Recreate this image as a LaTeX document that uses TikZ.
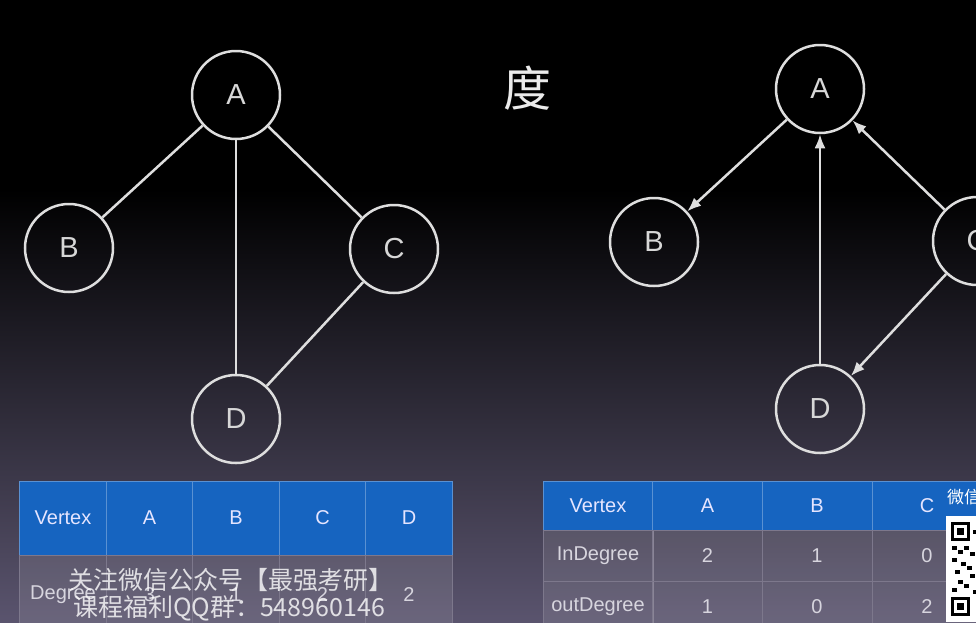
\documentclass[tikz,border=0pt]{standalone}
\usepackage{fontspec}
\setmainfont{Liberation Sans}
\newfontfamily\cjk{Noto Sans CJK SC}
\usetikzlibrary{arrows.meta,positioning}
\definecolor{edgeGray}{RGB}{222,222,222}
\definecolor{labelGray}{RGB}{215,215,215}
\definecolor{headBlue}{RGB}{22,100,192}
\definecolor{headLine}{RGB}{90,145,210}
\definecolor{bodyLine}{RGB}{125,120,140}
\definecolor{bodyText}{RGB}{215,213,222}
\definecolor{slideLow}{RGB}{90,84,110}
\tikzset{
  degVertex/.style={circle, draw=edgeGray, line width=2.5pt, minimum size=88pt, inner sep=0pt, text=labelGray, font=\fontsize{29}{29}\selectfont},
  degEdge/.style={draw=edgeGray, line width=2.5pt},
  degArrow/.style={degEdge, -{Latex[length=14pt,width=11pt]}},
  headCell/.style={draw=headLine, line width=0.8pt, fill=headBlue, inner sep=0pt, text=white!90!blue, font=\fontsize{20}{20}\selectfont},
  bodyCell/.style={draw=bodyLine, line width=0.8pt, fill=white, fill opacity=0.1, draw opacity=1, text opacity=1, inner sep=0pt, text=bodyText, font=\fontsize{20}{20}\selectfont},
  markText/.style={text=white, text opacity=0.8, font=\cjk\fontsize{25}{25}\selectfont, inner sep=0pt}
}

\begin{document}
\begin{tikzpicture}[x=1pt, y=-1pt,
    leftCol/.style={minimum width=86.5pt},
    rightCol/.style={minimum width=110pt}
  ]
  \useasboundingbox (0,0) rectangle (976,622);
  \clip (0,0) rectangle (976,622);
  % slide background
  \fill[black] (0,0) rectangle (976,190);
  \shade[top color=black, bottom color=slideLow] (0,189) rectangle (976,622);

  % title
  \node[text=white!92!black, font=\cjk\fontsize{48}{48}\selectfont, inner sep=0pt] (title) at (527,88) {度};

  % undirected graph
  \node[degVertex] (uA) at (236,95) {A};
  \node[degVertex] (uB) at (69,248) {B};
  \node[degVertex] (uC) at (394,249) {C};
  \node[degVertex] (uD) at (236,419) {D};
  \draw[degEdge] (uA) -- (uB);
  \draw[degEdge] (uA) -- (uC);
  \draw[degEdge] (uA) -- (uD);
  \draw[degEdge] (uC) -- (uD);

  % directed graph
  \node[degVertex] (dA) at (820,89) {A};
  \node[degVertex] (dB) at (654,242) {B};
  \node[degVertex] (dC) at (977,241) {C};
  \node[degVertex] (dD) at (820,409) {D};
  \draw[degArrow] (dA) -- (dB);
  \draw[degArrow] (dD) -- (dA);
  \draw[degArrow] (dC) -- (dA);
  \draw[degArrow] (dC) -- (dD);

  % degree table
  \node[headCell, leftCol, minimum height=74pt] (tVertex) at (63,518) {Vertex};
  \node[headCell, leftCol, minimum height=74pt] (tA) at (149.5,518) {A};
  \node[headCell, leftCol, minimum height=74pt] (tB) at (236,518) {B};
  \node[headCell, leftCol, minimum height=74pt] (tC) at (322.5,518) {C};
  \node[headCell, leftCol, minimum height=74pt] (tD) at (409,518) {D};
  \node[bodyCell, leftCol, minimum height=80pt] (tDeg) at (63,595) {Degree};
  \node[bodyCell, leftCol, minimum height=80pt] (tDegA) at (149.5,595) {3};
  \node[bodyCell, leftCol, minimum height=80pt] (tDegB) at (236,595) {1};
  \node[bodyCell, leftCol, minimum height=80pt] (tDegC) at (322.5,595) {2};
  \node[bodyCell, leftCol, minimum height=80pt] (tDegD) at (409,595) {2};

  % in/out degree table
  \node[headCell, rightCol, minimum height=49pt] (sVertex) at (598,505.5) {Vertex};
  \node[headCell, rightCol, minimum height=49pt] (sA) at (707.5,505.5) {A};
  \node[headCell, rightCol, minimum height=49pt] (sB) at (817,505.5) {B};
  \node[headCell, rightCol, minimum height=49pt] (sC) at (927,505.5) {C};
  \node[bodyCell, rightCol, minimum height=51pt] (sIn) at (598,555.5) {InDegree};
  \node[bodyCell, rightCol, minimum height=51pt] (sInA) at (707.5,555.5) {2};
  \node[bodyCell, rightCol, minimum height=51pt] (sInB) at (817,555.5) {1};
  \node[bodyCell, rightCol, minimum height=51pt] (sInC) at (927,555.5) {0};
  \node[bodyCell, rightCol, minimum height=51pt] (sOut) at (598,606.5) {outDegree};
  \node[bodyCell, rightCol, minimum height=51pt] (sOutA) at (707.5,606.5) {1};
  \node[bodyCell, rightCol, minimum height=51pt] (sOutB) at (817,606.5) {0};
  \node[bodyCell, rightCol, minimum height=51pt] (sOutC) at (927,606.5) {2};

  % watermark and qr code
  \node[markText] (markTop) at (231,580) {关注微信公众号【最强考研】};
  \node[markText] (markBottom) at (229,608) {课程福利QQ群：548960146};
  \node[text=white, font=\cjk\fontsize{17}{17}\selectfont, inner sep=0pt, anchor=west] (qrLabel) at (947,497) {微信};
  \fill[white] (946,516) rectangle (976,622);
  \fill[black] (951,522) rectangle (970,541);
  \fill[white] (954,525) rectangle (967,538);
  \fill[black] (957,528) rectangle (964,535);
  \fill[black] (951,597) rectangle (970,616);
  \fill[white] (954,600) rectangle (967,613);
  \fill[black] (957,603) rectangle (964,610);
  \foreach \qx/\qy in {952/546, 958/550, 964/546, 970/552, 952/558, 961/562, 967/566, 955/570, 970/574, 958/580, 964/584, 952/588, 973/590, 973/530}
    \fill[black] (\qx,\qy) rectangle ++(5,4);
\end{tikzpicture}
\end{document}
